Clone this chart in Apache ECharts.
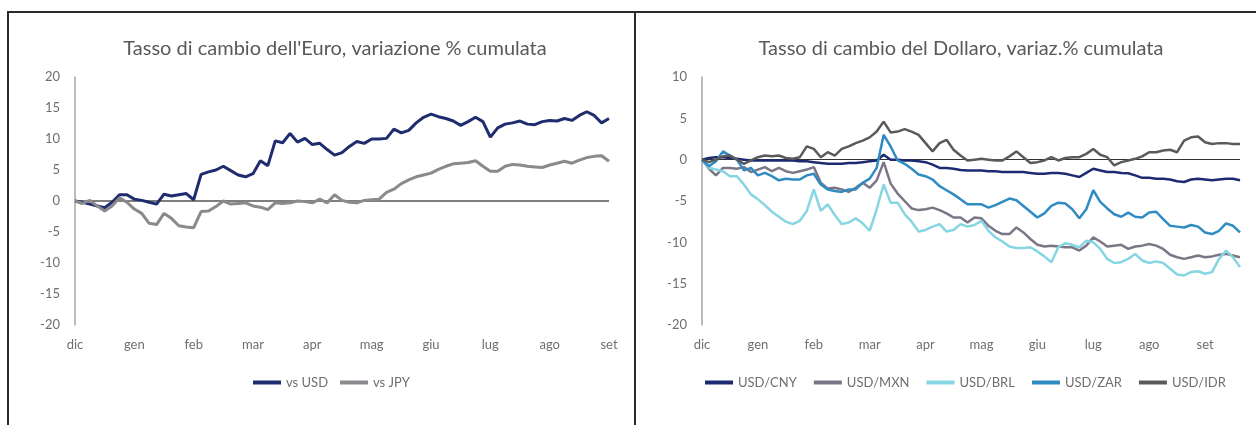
<!DOCTYPE html>
<html>
<head>
<meta charset="utf-8">
<script src="https://cdn.jsdelivr.net/npm/echarts@6/dist/echarts.min.js"></script>
<style>
  html, body { margin: 0; padding: 0; background: #ffffff; }
  #chart { width: 1256px; height: 425px; }
</style>
</head>
<body>
<div id="chart"></div>
<script>
// Month tick labels (one every 8 samples)
const monthLabels = ['dic', 'gen', 'feb', 'mar', 'apr', 'mag', 'giu', 'lug', 'ago', 'set'];
const STEPS_PER_MONTH = 8;

// Left chart: Euro exchange rate, cumulative % change
const eurVsUsd = [0.0,-0.2,-0.5,-0.8,-1.1,-0.2,1.0,1.0, 0.3,0.1,-0.2,-0.5,1.1,0.8,1.0,1.2,
  0.2,4.3,4.7,5.0,5.6,4.9,4.2,3.9, 4.4,6.5,5.7,9.7,9.4,10.9,9.5,10.1,
  9.1,9.3,8.3,7.4,7.8,8.8,9.6,9.3, 10.0,10.0,10.1,11.6,11.0,11.4,12.6,13.5,
  14.0,13.6,13.3,12.9,12.2,12.8,13.5,12.8, 10.3,11.8,12.4,12.6,12.9,12.4,12.3,12.8,
  13.0,12.9,13.3,13.0,13.8,14.4,13.8,12.6, 13.3];
const eurVsJpy = [0.0,-0.4,0.1,-0.8,-1.6,-0.8,0.5,-0.2, -1.3,-2.0,-3.6,-3.8,-2.0,-2.8,-4.0,-4.2,
  -4.3,-1.7,-1.6,-0.9,0.0,-0.5,-0.4,-0.3, -0.8,-1.0,-1.4,-0.3,-0.4,-0.3,0.0,-0.1,
  -0.3,0.3,-0.3,1.0,0.1,-0.2,-0.3,0.1, 0.2,0.3,1.4,1.9,2.8,3.4,3.9,4.2,
  4.5,5.1,5.6,6.0,6.1,6.2,6.5,5.6, 4.8,4.8,5.6,5.9,5.8,5.6,5.5,5.4,
  5.8,6.1,6.4,6.1,6.6,7.0,7.2,7.3, 6.4];

// Right chart: Dollar exchange rate, cumulative % change
const usdCny = [0.0,0.2,0.3,0.3,0.2,0.1,0.0,-0.1, -0.1,-0.1,-0.1,-0.1,-0.1,-0.1,-0.2,-0.2,
  -0.3,-0.4,-0.5,-0.5,-0.5,-0.4,-0.4,-0.3, -0.2,-0.1,0.6,0.0,0.0,-0.1,-0.1,-0.2,
  -0.3,-0.6,-1.0,-1.0,-1.1,-1.25,-1.3,-1.3, -1.3,-1.4,-1.4,-1.5,-1.5,-1.5,-1.5,-1.6,
  -1.7,-1.7,-1.6,-1.6,-1.7,-1.9,-2.1,-1.6, -1.1,-1.3,-1.5,-1.5,-1.6,-1.65,-1.9,-2.2,
  -2.2,-2.3,-2.3,-2.4,-2.6,-2.7,-2.4,-2.3, -2.4,-2.5,-2.4,-2.3,-2.3,-2.5];
const usdMxn = [0.0,-1.1,-1.9,-1.0,-1.0,-1.1,-0.9,-1.5, -1.2,-0.9,-1.4,-1.0,-1.4,-1.6,-1.4,-1.2,
  -0.9,-2.8,-3.5,-3.4,-3.6,-3.9,-3.4,-2.8, -3.4,-2.5,-0.3,-2.9,-4.1,-5.0,-5.9,-6.1,
  -6.0,-5.8,-6.1,-6.5,-7.0,-7.0,-7.6,-7.0, -7.1,-8.0,-8.6,-9.0,-9.0,-8.2,-8.8,-9.6,
  -10.3,-10.5,-10.4,-10.5,-10.6,-10.6,-11.0,-10.4, -9.4,-9.9,-10.5,-10.4,-10.3,-10.8,-10.5,-10.4,
  -10.2,-10.4,-10.8,-11.5,-11.8,-12.0,-11.8,-11.6, -11.8,-11.7,-11.5,-11.4,-11.6,-11.8];
const usdBrl = [0.0,-1.0,-1.2,-1.4,-2.0,-2.0,-3.0,-4.2, -4.8,-5.5,-6.3,-6.9,-7.5,-7.8,-7.4,-6.2,
  -3.6,-6.2,-5.4,-6.7,-7.8,-7.6,-7.1,-7.7, -8.6,-6.0,-3.0,-5.2,-5.2,-6.6,-7.5,-8.7,
  -8.5,-8.1,-7.8,-8.7,-8.5,-7.8,-8.1,-7.9, -7.4,-8.6,-9.4,-9.9,-10.5,-10.7,-10.7,-10.6,
  -11.1,-11.7,-12.4,-10.6,-10.1,-10.3,-10.6,-9.8, -10.0,-10.8,-12.0,-12.5,-12.4,-12.0,-11.4,-12.2,
  -12.5,-12.3,-12.5,-13.2,-13.9,-14.0,-13.6,-13.5, -13.8,-13.6,-12.0,-11.0,-11.8,-13.0];
const usdZar = [0.0,-0.8,-0.2,1.0,0.5,0.0,-1.3,-1.0, -1.9,-1.6,-2.0,-2.5,-2.3,-2.4,-2.4,-1.9,
  -1.7,-3.0,-3.6,-3.8,-3.9,-3.6,-3.6,-2.8, -2.3,-1.0,3.0,1.6,-0.1,-0.5,-1.1,-1.8,
  -2.0,-2.4,-3.2,-3.7,-4.2,-4.8,-5.4,-5.4, -5.4,-5.8,-5.5,-5.1,-4.7,-4.9,-5.6,-6.3,
  -7.0,-6.5,-5.6,-5.2,-5.3,-6.0,-7.1,-6.0, -3.7,-5.1,-5.9,-6.6,-6.9,-6.4,-6.9,-7.0,
  -6.4,-6.3,-7.2,-8.0,-8.1,-8.2,-7.9,-8.1, -8.8,-9.0,-8.6,-7.7,-8.0,-8.8];
const usdIdr = [0.0,-0.3,0.0,0.4,0.5,0.0,-0.5,-0.1, 0.3,0.5,0.4,0.5,0.2,0.1,0.3,1.6,
  1.3,0.3,0.9,0.5,1.3,1.6,2.0,2.3, 2.7,3.4,4.6,3.3,3.4,3.7,3.4,3.0,
  2.0,1.0,2.0,2.4,1.2,0.5,-0.1,0.0, 0.1,0.0,-0.1,-0.1,0.4,1.0,0.3,-0.4,
  -0.3,-0.1,0.3,-0.1,0.2,0.3,0.3,0.7, 1.3,0.6,0.3,-0.7,-0.3,-0.1,0.1,0.4,
  0.9,0.9,1.1,1.2,0.9,2.3,2.7,2.8, 2.1,1.9,2.0,2.0,1.9,1.9];

function buildCategories(n) {
  const out = [];
  for (let i = 0; i < n; i++) {
    out.push(i % STEPS_PER_MONTH === 0 ? (monthLabels[i / STEPS_PER_MONTH] || '') : '');
  }
  return out;
}
const leftCats = buildCategories(eurVsUsd.length);
const rightCats = buildCategories(usdCny.length);

const FONT = 'Lato';
const TXT = '#6f6f6f';

function xAxisFor(gridIndex, cats) {
  return {
    type: 'category', gridIndex: gridIndex, data: cats, boundaryGap: false,
    axisLine: { show: false }, axisTick: { show: false },
    axisLabel: { interval: 0, hideOverlap: false, color: TXT, fontSize: 13, fontFamily: FONT, margin: 13 },
    splitLine: { show: false }
  };
}
function yAxisFor(gridIndex, min, max) {
  return {
    type: 'value', gridIndex: gridIndex, min: min, max: max, interval: 5,
    axisLine: { show: true, lineStyle: { color: '#a6a6a6', width: 1.5 } },
    axisTick: { show: false },
    axisLabel: { color: TXT, fontSize: 13, fontFamily: FONT, margin: 15 },
    splitLine: { show: false }
  };
}
function lineSeries(name, data, xi, color, width, zeroLine) {
  const s = {
    name: name, type: 'line', xAxisIndex: xi, yAxisIndex: xi, data: data,
    showSymbol: false, symbol: 'none', smooth: false,
    lineStyle: { color: color, width: width }, itemStyle: { color: color },
    emphasis: { disabled: true }, animation: false
  };
  if (zeroLine) {
    s.markLine = {
      silent: true, symbol: 'none', label: { show: false },
      lineStyle: { color: zeroLine.color, width: zeroLine.width, type: 'solid' },
      data: [{ yAxis: 0 }], z: 1
    };
  }
  return s;
}

const chart = echarts.init(document.getElementById('chart'), null, { renderer: 'canvas' });
chart.setOption({
  backgroundColor: '#ffffff',
  animation: false,
  textStyle: { fontFamily: FONT },
  graphic: [
    { type: 'rect', shape: { x: 8, y: 12, width: 627, height: 430 }, style: { fill: 'none', stroke: '#2a2a2a', lineWidth: 2 }, silent: true },
    { type: 'rect', shape: { x: 635, y: 12, width: 640, height: 430 }, style: { fill: 'none', stroke: '#2a2a2a', lineWidth: 2 }, silent: true }
  ],
  title: [
    { text: "Tasso di cambio dell'Euro, variazione % cumulata", left: 330, top: 34, textAlign: 'center',
      textStyle: { fontFamily: FONT, fontSize: 20, fontWeight: 'normal', color: '#595959' } },
    { text: 'Tasso di cambio del Dollaro, variaz.% cumulata', left: 956, top: 34, textAlign: 'center',
      textStyle: { fontFamily: FONT, fontSize: 20, fontWeight: 'normal', color: '#595959' } }
  ],
  legend: [
    { data: ['vs USD', 'vs JPY'], left: 248, top: 371, icon: 'rect', itemWidth: 28, itemHeight: 4, itemGap: 12,
      textStyle: { color: TXT, fontSize: 13, fontFamily: FONT } },
    { data: ['USD/CNY', 'USD/MXN', 'USD/BRL', 'USD/ZAR', 'USD/IDR'], left: 700, top: 371, icon: 'rect', itemWidth: 28, itemHeight: 4, itemGap: 17,
      textStyle: { color: TXT, fontSize: 13, fontFamily: FONT } }
  ],
  grid: [
    { left: 75, top: 77, width: 534, height: 248 },
    { left: 702, top: 77, width: 538, height: 248 }
  ],
  xAxis: [xAxisFor(0, leftCats), xAxisFor(1, rightCats)],
  yAxis: [yAxisFor(0, -20, 20), yAxisFor(1, -20, 10)],
  series: [
    lineSeries('vs USD', eurVsUsd, 0, '#1f2c6e', 3, { color: '#555555', width: 1.5 }),
    lineSeries('vs JPY', eurVsJpy, 0, '#8a8a8e', 3),
    lineSeries('USD/CNY', usdCny, 1, '#1c2a72', 2.5, { color: '#333333', width: 1.2 }),
    lineSeries('USD/MXN', usdMxn, 1, '#7a7686', 2.5),
    lineSeries('USD/BRL', usdBrl, 1, '#86d5e2', 2.5),
    lineSeries('USD/ZAR', usdZar, 1, '#2f8bc2', 2.5),
    lineSeries('USD/IDR', usdIdr, 1, '#5a5a5a', 2.5)
  ]
});
</script>
</body>
</html>
